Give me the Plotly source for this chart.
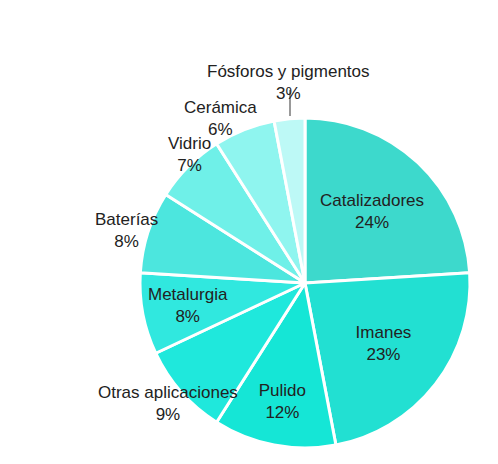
import plotly.graph_objects as go

labels = ["Catalizadores", "Imanes", "Pulido", "Otras aplicaciones", "Metalurgia",
          "Baterías", "Vidrio", "Cerámica", "Fósforos y pigmentos"]
values = [24, 23, 12, 9, 8, 8, 7, 6, 3]
colors = ["#3dd9cc", "#22e0d2", "#15e6d6", "#1fe8dc", "#30e8df",
          "#4ce6de", "#6ff0e8", "#8ff5ef", "#bdf9f6"]
inside = [True, True, True, False, False, False, False, False, False]

texts = [f"{l}<br>{v}%" if i else "" for l, v, i in zip(labels, values, inside)]
W, H = 498, 464
FONT = dict(family="Liberation Sans", size=17, color="#222")

fig = go.Figure(go.Pie(
    labels=labels, values=values, sort=False, direction="clockwise", rotation=0,
    domain=dict(x=[132 / W, 462 / W], y=[24 / H, 354 / H]),
    marker=dict(colors=colors, line=dict(color="white", width=3)),
    text=texts, textinfo="text", textposition="inside", insidetextorientation="horizontal",
    textfont=FONT, hoverinfo="label+percent", showlegend=False,
))

label_px = {
    "Fósforos y pigmentos": (280, 52),
    "Cerámica": (212, 88),
    "Vidrio": (158, 124),
    "Baterías": (85, 222),
    "Otras aplicaciones": (88, 418),
    "Metalurgia": (180, 297),
}
for l, v in zip(labels, values):
    if l in label_px:
        px, py = label_px[l]
        fig.add_annotation(x=px / W, y=(H - py) / H, xref="paper", yref="paper",
                           text=f"{l}<br>{v}%", showarrow=False, font=FONT)
fig.add_shape(type="line", xref="paper", yref="paper", x0=282 / W, x1=282 / W,
              y0=(H - 82) / H, y1=(H - 108) / H, line=dict(color="#999", width=2))

fig.update_layout(width=W, height=H, margin=dict(l=0, r=0, t=0, b=0),
                  paper_bgcolor="white", plot_bgcolor="white")
fig.write_html("out.html")
